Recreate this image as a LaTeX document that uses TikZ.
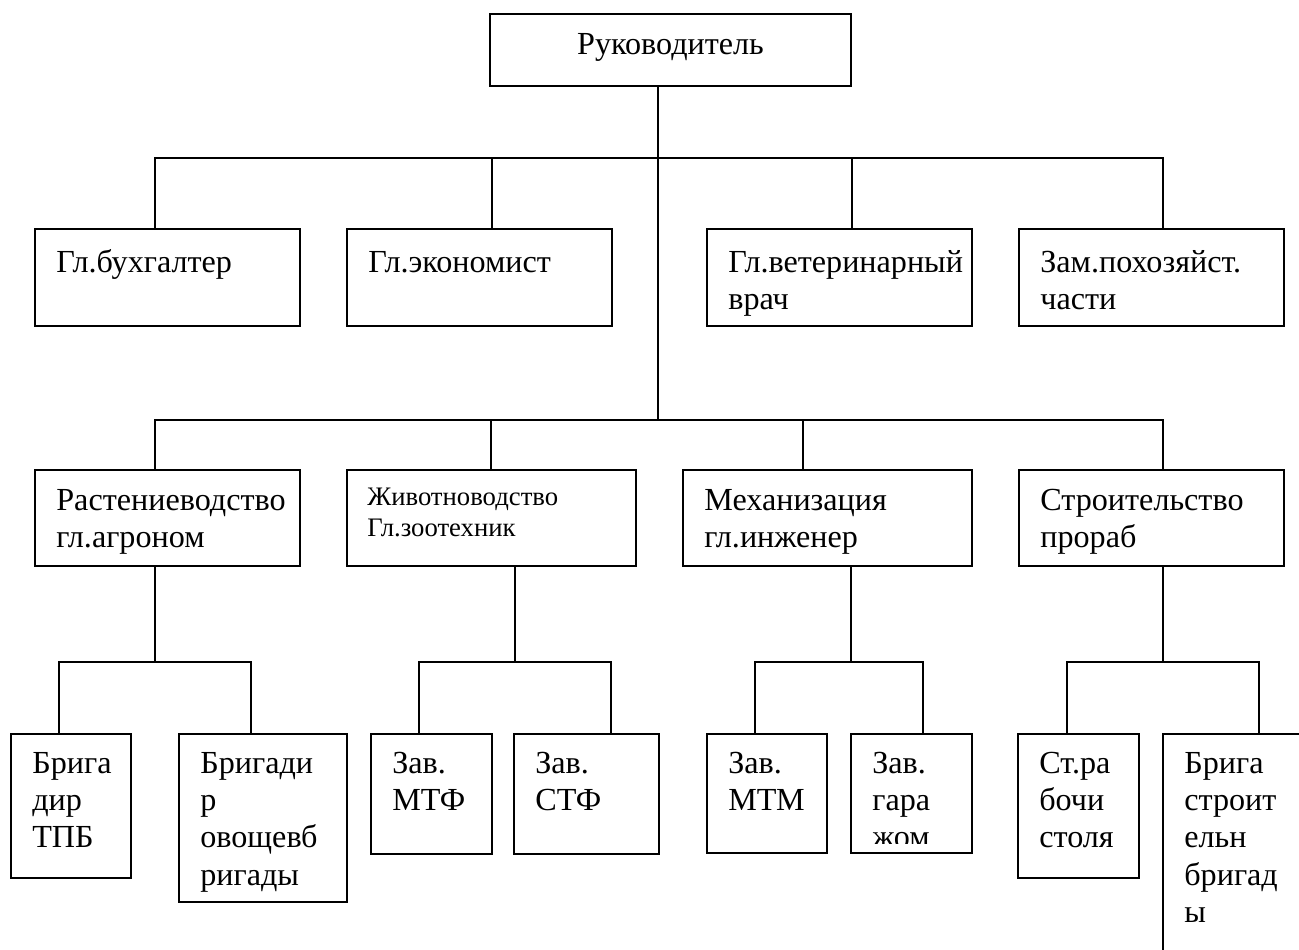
\documentclass[tikz,border=0pt]{standalone}
\usepackage{fontspec}
\setmainfont{Liberation Serif}
\usetikzlibrary{calc}
% name, x1, y1, x2, y2, baseline below top, text
\newcommand{\orgbox}[7]{%
  \node[box, minimum width={(#4-#2)*0.02cm}, minimum height={(#5-#3)*0.02cm}] (#1) at ({(#2+#4)/2},{(#3+#5)/2}) {};
  \node[lbl] (#1-t) at ({#2+21},{#3+#6}) {\parbox[t]{6cm}{#7}};}

\begin{document}
\begin{tikzpicture}[x=0.02cm, y=-0.02cm,
    box/.style={draw, line width=1pt, inner sep=0pt},
    lbl/.style={anchor=base west, inner sep=0pt, font=\fontsize{18.3}{21.3}\selectfont},
    small/.style={lbl, font=\fontsize{15.2}{18.1}\selectfont},
    link/.style={line width=1pt}]
			%%%%% START %%%%%
			\useasboundingbox (0,0) rectangle (1299,950);
			\clip (0,0) rectangle (1299,950);
			
			% head
			\node[box, minimum width={361*0.02cm}, minimum height={72*0.02cm}] (boss) at (670.5,50) {};
			\node[lbl, anchor=base] (boss-t) at (670.5,54) {Руководитель};
			\coordinate (hub1) at (658,158);
			\coordinate (hub2) at (658,420);
			
			% first row
			\orgbox{buh}{35}{229}{300}{326}{43}{Гл.бухгалтер}
			\orgbox{econ}{347}{229}{612}{326}{43}{Гл.экономист}
			\orgbox{vet}{707}{229}{972}{326}{43}{Гл.ветеринарный\\врач}
			\orgbox{zam}{1019}{229}{1284}{326}{43}{Зам.похозяйст.\\части}
			
			% second row
			\orgbox{rast}{35}{470}{300}{566}{40}{Растениеводство\\гл.агроном}
			\node[box, minimum width={289*0.02cm}, minimum height={96*0.02cm}] (zhiv) at (491.5,518) {};
			\node[small] (zhiv-t) at (367,505) {\parbox[t]{6cm}{Животноводство\\Гл.зоотехник}};
			\orgbox{mech}{683}{470}{972}{566}{40}{Механизация\\гл.инженер}
			\orgbox{stroy}{1019}{470}{1284}{566}{40}{Строительство\\прораб}
			
			% third row
			\orgbox{tpb}{11}{734}{131}{878}{39}{Брига\\дир\\ТПБ}
			\orgbox{ovo}{179}{734}{347}{902}{39}{Бригади\\р\\овощевб\\ригады}
			\orgbox{mtf}{371}{734}{492}{854}{39}{Зав.\\МТФ}
			\orgbox{stf}{514}{734}{659}{854}{39}{Зав.\\СТФ}
			\orgbox{mtm}{707}{734}{827}{853}{39}{Зав.\\МТМ}
			\node[box, minimum width={121*0.02cm}, minimum height={119*0.02cm}] (gar) at (911.5,793.5) {};
			\begin{scope}
				\clip (851,734) rectangle (972,843);
				\node[lbl] (gar-t) at (872,773) {\parbox[t]{6cm}{Зав.\\гара\\жом}};
			\end{scope}
			\orgbox{strab}{1018}{734}{1139}{878}{39}{Ст.ра\\бочи\\столя}
			\orgbox{sbrig}{1163}{734}{1340}{1000}{39}{Брига\\строит\\ельн\\бригад\\ы}
			
			% head to first row
			\draw[link] (boss.south -| hub1) -- (hub2);
			\draw[link] (buh.north -| 155,0) |- (hub1) -| (zam.north -| 1163,0);
			\draw[link] (econ.north -| 492,0) -- (hub1 -| 492,0);
			\draw[link] (vet.north -| 852,0) -- (hub1 -| 852,0);
			
			% head to second row
			\draw[link] (rast.north -| 155,0) |- (hub2) -| (stroy.north -| 1163,0);
			\draw[link] (zhiv.north -| 491,0) -- (hub2 -| 491,0);
			\draw[link] (mech.north -| 803,0) -- (hub2 -| 803,0);
			
			% second row to third row
			\draw[link] (rast.south -| 155,0) -- (155,662);
			\draw[link] (tpb.north -| 59,0) -- (59,662) -- (251,662) -- (ovo.north -| 251,0);
			\draw[link] (zhiv.south -| 515,0) -- (515,662);
			\draw[link] (mtf.north -| 419,0) -- (419,662) -- (611,662) -- (stf.north -| 611,0);
			\draw[link] (mech.south -| 851,0) -- (851,662);
			\draw[link] (mtm.north -| 755,0) -- (755,662) -- (923,662) -- (gar.north -| 923,0);
			\draw[link] (stroy.south -| 1163,0) -- (1163,662);
			\draw[link] (strab.north -| 1067,0) -- (1067,662) -- (1259,662) -- (sbrig.north -| 1259,0);
			
			%%%%% END %%%%%
\end{tikzpicture}
\end{document}
